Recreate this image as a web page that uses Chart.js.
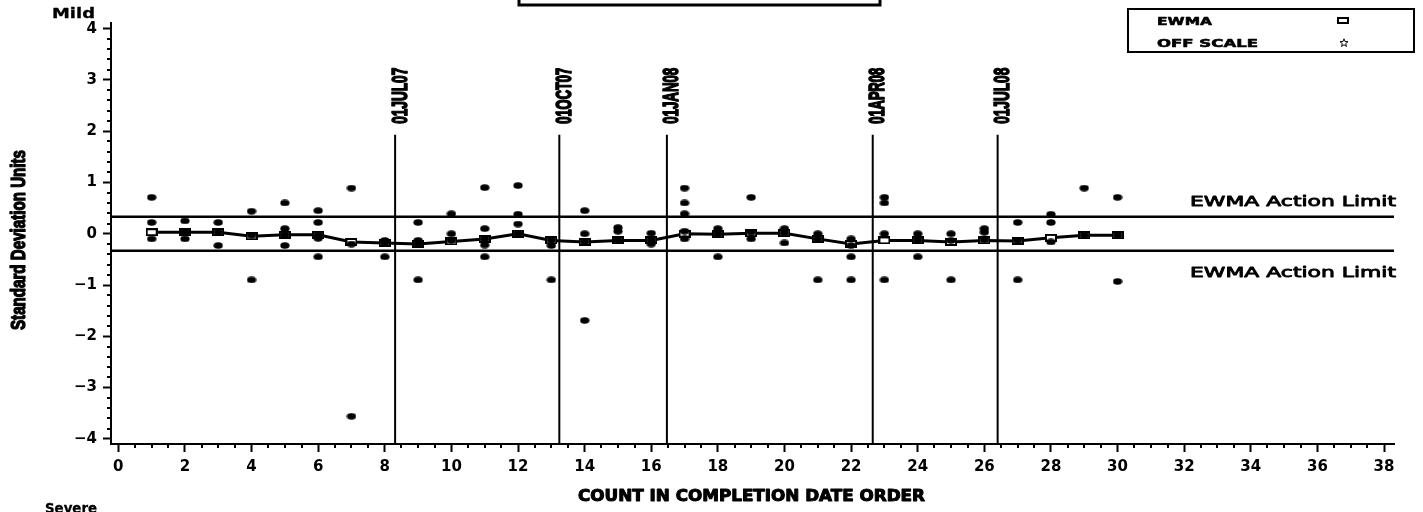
<!DOCTYPE html>
<html><head><meta charset="utf-8">
<script src="https://cdn.jsdelivr.net/npm/chart.js@4.4.1/dist/chart.umd.min.js"></script>
<style>html,body{margin:0;padding:0;background:#fff;}canvas{display:block;}</style>
</head><body>
<canvas id="c" width="1423" height="512"></canvas>
<script>
// ---- data ----
const counts = [1,2,3,4,5,6,7,8,9,10,11,12,13,14,15,16,17,18,19,20,21,22,23,24,25,26,27,28,29,30];
const observations = [
  [0.71, 0.22, -0.10],
  [0.25, 0.03, -0.10],
  [0.22, 0.03, -0.23],
  [0.44, -0.03, -0.90],
  [0.60, 0.10, -0.02, -0.23],
  [0.45, 0.22, -0.02, -0.09, -0.45],
  [0.89, -0.20, -3.56],
  [-0.13, -0.18, -0.45],
  [0.22, -0.13, -0.20, -0.90],
  [0.39, 0.00, -0.13],
  [0.90, 0.10, -0.10, -0.22, -0.45],
  [0.94, 0.38, 0.19, 0.00],
  [-0.12, -0.23, -0.90],
  [0.45, 0.00, -0.15, -1.69],
  [0.12, 0.05, -0.13],
  [0.01, -0.13, -0.20],
  [0.89, 0.60, 0.39, 0.05, -0.10],
  [0.10, -0.01, -0.45],
  [0.71, 0.03, -0.10],
  [0.10, 0.01, -0.18],
  [0.00, -0.10, -0.90],
  [-0.10, -0.23, -0.45, -0.90],
  [0.71, 0.60, 0.00, -0.90],
  [0.00, -0.13, -0.45],
  [0.00, -0.13, -0.90],
  [0.10, 0.03, -0.12],
  [0.22, -0.13, -0.90],
  [0.38, 0.22, -0.16],
  [0.89, -0.03],
  [0.71, -0.03, -0.93]
];
const ewma = [0.03,0.03,0.03,-0.05,-0.02,-0.02,-0.16,-0.18,-0.20,-0.15,-0.10,0.00,-0.13,-0.16,-0.13,-0.13,0.00,-0.01,0.01,0.01,-0.10,-0.20,-0.13,-0.13,-0.16,-0.13,-0.14,-0.08,-0.03,-0.03];
const upperActionLimit = 0.33;
const lowerActionLimit = -0.33;
const refDates = ['01JUL07','01OCT07','01JAN08','01APR08','01JUL08'];
const refPositions = [8.31, 13.24, 16.47, 22.65, 26.40];
const refTop = 1.93;
const xTicks = [0,2,4,6,8,10,12,14,16,18,20,22,24,26,28,30,32,34,36,38];
const yTicks = [-4,-3,-2,-1,0,1,2,3,4];
const xRange = [-0.22, 38.3];
const yRange = [-4.10, 4.11];
const texts = {
  yTitle: 'Standard Deviation Units',
  xTitle: 'COUNT IN COMPLETION DATE ORDER',
  mild: 'Mild', severe: 'Severe',
  limit: 'EWMA Action Limit',
  legend: ['EWMA', 'OFF SCALE']
};

// ---- point images ----
function makeDot() {
  const c = document.createElement('canvas'); c.width = 10; c.height = 7;
  const g = c.getContext('2d'); g.fillStyle = '#000';
  g.beginPath(); g.ellipse(5, 3.5, 4.6, 3.3, 0, 0, Math.PI * 2); g.fill();
  return c;
}
function makeSquare() {
  const c = document.createElement('canvas'); c.width = 12; c.height = 8;
  const g = c.getContext('2d');
  g.fillStyle = '#fff'; g.fillRect(1, 1, 10, 6);
  g.strokeStyle = '#000'; g.lineWidth = 2; g.strokeRect(1, 1, 10, 6);
  return c;
}

const obsPoints = [];
counts.forEach((c, i) => observations[i].forEach(v => obsPoints.push({x: c, y: v})));
const ewmaPoints = counts.map((c, i) => ({x: c, y: ewma[i]}));

const lineDs = (data, w) => ({type: 'line', data, borderColor: '#000', borderWidth: w, pointRadius: 0, fill: false, order: 3, tension: 0});
const datasets = [
  {type: 'scatter', label: 'obs', data: obsPoints, pointStyle: makeDot(), backgroundColor: '#000', order: 0},
  {type: 'line', label: 'EWMA', data: ewmaPoints, borderColor: '#000', borderWidth: 3, pointStyle: makeSquare(), tension: 0, fill: false, order: 1},
  lineDs([{x: xRange[0], y: upperActionLimit}, {x: xRange[1], y: upperActionLimit}], 2.5),
  lineDs([{x: xRange[0], y: lowerActionLimit}, {x: xRange[1], y: lowerActionLimit}], 2.5)
];
refPositions.forEach(p => datasets.push(lineDs([{x: p, y: yRange[0]}, {x: p, y: refTop}], 2)));

function drawFit(ctx, text, cx, cy, font, width, height, angle, stroke) {
  ctx.save();
  ctx.font = font;
  const m = ctx.measureText(text);
  const w = m.width;
  const asc = m.actualBoundingBoxAscent, desc = m.actualBoundingBoxDescent;
  const h = asc + desc;
  ctx.translate(cx, cy);
  if (angle) ctx.rotate(angle);
  const sx = width / w, sy = height ? height / h : sx;
  ctx.scale(sx, sy);
  ctx.textAlign = 'center';
  ctx.textBaseline = 'alphabetic';
  ctx.fillStyle = '#000';
  ctx.fillText(text, 0, (asc - desc) / 2);
  if (stroke) {
    ctx.strokeStyle = '#000';
    ctx.lineWidth = stroke / Math.min(sx, sy);
    ctx.lineJoin = 'round';
    ctx.strokeText(text, 0, (asc - desc) / 2);
  }
  ctx.restore();
}

const decor = {
  id: 'decor',
  afterDraw(chart) {
    const ctx = chart.ctx, xs = chart.scales.x, ys = chart.scales.y, a = chart.chartArea;
    ctx.save();
    ctx.strokeStyle = '#000'; ctx.lineWidth = 2;
    // minor ticks
    ctx.beginPath();
    for (let v = -4; v <= 4.001; v += 0.2) {
      if (Math.abs(v - Math.round(v)) < 1e-6) continue;
      const y = Math.round(ys.getPixelForValue(v));
      ctx.moveTo(a.left - 4, y); ctx.lineTo(a.left, y);
    }
    for (let v = 0; v <= 38.001; v += 0.5) {
      if (Math.abs(v / 2 - Math.round(v / 2)) < 1e-6) continue;
      const x = Math.round(xs.getPixelForValue(v));
      ctx.moveTo(x, a.bottom); ctx.lineTo(x, a.bottom + 4);
    }
    ctx.stroke();
    // title box remnant
    ctx.lineWidth = 3;
    ctx.strokeRect(519, -10, 361, 15);
    // legend box
    ctx.lineWidth = 2;
    ctx.strokeRect(1128, 9, 286, 43);
    drawFit(ctx, texts.legend[0], 1157 + 27.5, 21, 'bold 12px "DejaVu Sans"', 55, 8.5, 0, 0.6);
    drawFit(ctx, texts.legend[1], 1157 + 50.5, 43, 'bold 12px "DejaVu Sans"', 101, 8.5, 0, 0.6);
    ctx.fillStyle = '#fff';
    ctx.fillRect(1338, 18, 10, 5);
    ctx.strokeRect(1338, 18, 10, 5);
    // star
    ctx.lineWidth = 1;
    ctx.beginPath();
    for (let k = 0; k < 10; k++) {
      const r = k % 2 ? 1.8 : 4.2, ang = -Math.PI / 2 + k * Math.PI / 5;
      const px = 1344 + r * Math.cos(ang), py = 43 + r * Math.sin(ang);
      k ? ctx.lineTo(px, py) : ctx.moveTo(px, py);
    }
    ctx.closePath(); ctx.stroke();
    // Mild / Severe
    drawFit(ctx, texts.mild, 73.5, 12.5, 'bold 14px "DejaVu Sans"', 43, 10.5, 0, 0.3);
    drawFit(ctx, texts.severe, 71, 508, 'bold 14px "DejaVu Sans"', 52, 10.5, 0, 0.3);
    // axis titles
    drawFit(ctx, texts.yTitle, 17.5, 240, 'bold 20px "Liberation Sans Narrow", "Liberation Sans"', 180, 15, -Math.PI / 2, 1);
    drawFit(ctx, texts.xTitle, 751.5, 495, 'bold 16px "DejaVu Sans"', 347, 11.5, 0, 1);
    // action limit labels
    drawFit(ctx, texts.limit, a.right + 2 - 103, ys.getPixelForValue(upperActionLimit) - 16, '15px "DejaVu Sans"', 206, 10.7, 0, 0.8);
    drawFit(ctx, texts.limit, a.right + 2 - 103, ys.getPixelForValue(lowerActionLimit) + 21, '15px "DejaVu Sans"', 206, 10.7, 0, 0.8);
    // reference date labels
    refDates.forEach((d, i) => {
      const x = xs.getPixelForValue(refPositions[i]) + 4;
      const yb = ys.getPixelForValue(refTop) - 12;
      drawFit(ctx, d, x, yb - 27, 'bold 20px "Liberation Sans Narrow", "Liberation Sans"', 56, 15, -Math.PI / 2, 1);
    });
    ctx.restore();
  }
};

const tickFont = {family: 'DejaVu Sans', size: 15, weight: 'bold'};
const fmt = v => v < 0 ? '\u2212' + Math.abs(v) : String(v);

new Chart(document.getElementById('c'), {
  type: 'scatter',
  data: {datasets},
  options: {
    responsive: false, animation: false, devicePixelRatio: 1,
    layout: {padding: {left: 0, top: 23, right: 29, bottom: 0}},
    plugins: {legend: {display: false}, tooltip: {enabled: false}, title: {display: false}},
    scales: {
      x: {
        type: 'linear', min: xRange[0], max: xRange[1],
        afterBuildTicks: s => { s.ticks = xTicks.map(v => ({value: v})); },
        afterFit: s => { s.height = 68; },
        ticks: {color: '#000', font: tickFont, padding: 6, maxRotation: 0, autoSkip: false, callback: fmt},
        grid: {drawOnChartArea: false, drawTicks: true, tickLength: 8, tickWidth: 2, tickColor: '#000'},
        border: {display: true, color: '#000', width: 2}
      },
      y: {
        type: 'linear', min: yRange[0], max: yRange[1],
        afterBuildTicks: s => { s.ticks = yTicks.map(v => ({value: v})); },
        afterFit: s => { s.width = 111; },
        ticks: {color: '#000', font: tickFont, padding: 6, autoSkip: false, callback: fmt},
        grid: {drawOnChartArea: false, drawTicks: true, tickLength: 8, tickWidth: 2, tickColor: '#000'},
        border: {display: true, color: '#000', width: 2}
      }
    }
  },
  plugins: [decor]
});
</script>
</body></html>
